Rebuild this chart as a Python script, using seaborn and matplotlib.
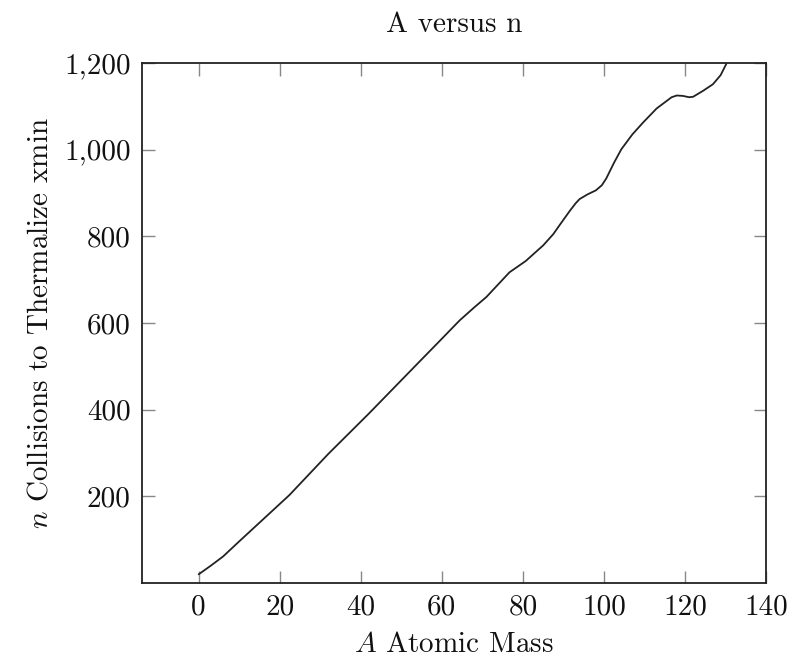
import matplotlib
matplotlib.use("Agg")
import matplotlib.pyplot as plt
import seaborn as sns
import pandas as pd

# Data
atomic_mass = [0, 3, 6, 10, 22.4, 32, 42, 47, 54.5, 59, 64.4, 68, 71, 74, 76.7,
               80.7, 85, 87.5, 89, 91.6, 93, 94, 96, 98, 99.5, 100.6, 102.5,
               104.3, 107, 109.7, 113, 116.7, 118, 119.5, 121, 122, 124.5,
               126.9, 128.8, 130.2]
collisions = [20, 40, 61, 96, 203, 298, 391, 439, 511, 554, 606, 636, 660, 690,
              717, 743, 779, 805, 825, 859, 876, 886, 897, 906, 918, 934, 970,
              1001, 1035, 1063, 1095, 1121, 1125, 1124, 1121, 1122, 1136,
              1151, 1172, 1198]

x_ticks = [0, 20, 40, 60, 80, 100, 120, 140]
y_ticks = [200, 400, 600, 800, 1000, 1200]
y_tick_labels = ["200", "400", "600", "800", "1,000", "1,200"]

sns.set_style("ticks")
plt.rcParams["font.family"] = ["cmr10", "DejaVu Serif"]
plt.rcParams["mathtext.fontset"] = "cm"
plt.rcParams["axes.unicode_minus"] = False
plt.rcParams["axes.formatter.use_mathtext"] = True

df = pd.DataFrame({"A": atomic_mass, "n": collisions})

fig = plt.figure(figsize=(7.93, 6.63), dpi=100)
ax = fig.add_axes([0.179, 0.1207, 0.787, 0.7843])

sns.lineplot(data=df, x="A", y="n", ax=ax, color="#222222", linewidth=1.3,
             clip_on=True)

ax.set_xlim(-14, 140)
ax.set_ylim(0, 1200)
ax.set_xticks(x_ticks)
ax.set_xticklabels([str(t) for t in x_ticks])
ax.set_yticks(y_ticks)
ax.set_yticklabels(y_tick_labels)

for s in ax.spines.values():
    s.set_visible(True)
    s.set_color("#222222")
    s.set_linewidth(1.3)

ax.tick_params(axis="both", which="major", direction="in", length=9,
               width=1.0, color="#888888", labelsize=21, pad=8,
               top=True, right=True, labelcolor="#111111")

ax.set_title("A versus n", fontsize=21, pad=22, color="#111111")
ax.set_xlabel("$A$ Atomic Mass", fontsize=21, labelpad=8, color="#111111")
ax.set_ylabel("$n$ Collisions to Thermalize xmin", fontsize=21, labelpad=8,
              color="#111111")

fig.savefig("out.png", dpi=100)
